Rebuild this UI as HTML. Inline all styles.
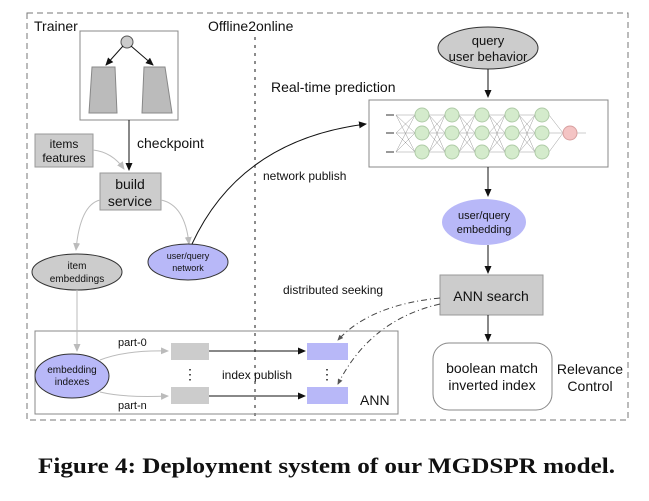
<!DOCTYPE html>
<html><head><style>
body{margin:0;background:#fff;width:649px;height:496px;overflow:hidden}
svg text{font-family:"Liberation Sans",sans-serif;fill:#111}
</style></head><body>
<svg width="649" height="496" viewBox="0 0 649 496" xmlns="http://www.w3.org/2000/svg">
<defs>
<marker id="a" markerWidth="8" markerHeight="8" refX="7" refY="4" orient="auto" markerUnits="userSpaceOnUse"><path d="M0,0.5 L8,4 L0,7.5z" fill="#111"/></marker>
<marker id="g" markerWidth="8" markerHeight="8" refX="7" refY="4" orient="auto" markerUnits="userSpaceOnUse"><path d="M0,0.5 L8,4 L0,7.5z" fill="#bbb"/></marker>
<marker id="s" markerWidth="6" markerHeight="6" refX="5" refY="3" orient="auto" markerUnits="userSpaceOnUse"><path d="M0,0.5 L6,3 L0,5.5z" fill="#555"/></marker>
</defs>
<rect x="27" y="13" width="601" height="407" fill="none" stroke="#777" stroke-dasharray="6,4"/>
<line x1="255" y1="37" x2="255" y2="420" stroke="#666" stroke-width="1.5" stroke-dasharray="3,5"/>
<text x="34" y="31" font-size="14">Trainer</text>
<text x="208" y="31" font-size="14">Offline2online</text>
<rect x="80" y="31" width="98" height="89" fill="#fff" stroke="#888"/>
<circle cx="127" cy="42" r="6" fill="#ccc" stroke="#555"/>
<line x1="123" y1="46" x2="106" y2="65" stroke="#111" marker-end="url(#a)"/>
<line x1="131" y1="46" x2="153" y2="65" stroke="#111" marker-end="url(#a)"/>
<path d="M92,67 L115,67 L117,113 L89,113z" fill="#bbb" stroke="#888"/>
<path d="M144,67 L165,67 L172,113 L142,113z" fill="#bbb" stroke="#888"/>
<line x1="129" y1="120" x2="129" y2="170" stroke="#111" marker-end="url(#a)"/>
<text x="137" y="148" font-size="14">checkpoint</text>
<rect x="35" y="134" width="58" height="33" fill="#ccc" stroke="#999"/>
<text x="64" y="148" font-size="12" text-anchor="middle">items</text>
<text x="64" y="162" font-size="12" text-anchor="middle">features</text>
<path d="M93,150 Q112,152 124,169" fill="none" stroke="#bbb" marker-end="url(#g)"/>
<rect x="100" y="173" width="61" height="37" fill="#ccc" stroke="#999"/>
<text x="130" y="189" font-size="14" text-anchor="middle">build</text>
<text x="130" y="206" font-size="14" text-anchor="middle">service</text>
<path d="M100,200 Q80,205 76,250" fill="none" stroke="#bbb" marker-end="url(#g)"/>
<path d="M161,200 Q185,205 189,244" fill="none" stroke="#bbb" marker-end="url(#g)"/>
<ellipse cx="77" cy="272" rx="45" ry="18" fill="#ccc" stroke="#333"/>
<text x="77" y="269" font-size="10" text-anchor="middle">item</text>
<text x="77" y="282" font-size="10" text-anchor="middle">embeddings</text>
<ellipse cx="188" cy="262" rx="40" ry="18" fill="#b8b8f8" stroke="#333"/>
<text x="188" y="259" font-size="9" text-anchor="middle">user/query</text>
<text x="188" y="271" font-size="9" text-anchor="middle">network</text>
<path d="M192,244 Q240,140 366,124" fill="none" stroke="#111" marker-end="url(#a)"/>
<text x="263" y="180" font-size="12">network publish</text>
<ellipse cx="488" cy="48" rx="50" ry="21" fill="#ccc" stroke="#333"/>
<text x="488" y="45" font-size="13" text-anchor="middle">query</text>
<text x="488" y="61" font-size="13" text-anchor="middle">user behavior</text>
<line x1="488" y1="69" x2="488" y2="97" stroke="#111" marker-end="url(#a)"/>
<text x="271" y="92" font-size="14">Real-time prediction</text>
<rect x="369" y="100" width="239" height="67" fill="#fff" stroke="#888"/>
<g stroke="#999" stroke-width="0.5">
<path d="M396,115 L415,115 M396,133 L415,133 M396,152 L415,152 M396,115 L415,133 M396,115 L415,152 M396,133 L415,115 M396,133 L415,152 M396,152 L415,115 M396,152 L415,133"/>
<path d="M429,115 L445,115 M429,133 L445,133 M429,152 L445,152 M429,115 L445,133 M429,115 L445,152 M429,133 L445,115 M429,133 L445,152 M429,152 L445,115 M429,152 L445,133"/>
<path d="M459,115 L475,115 M459,133 L475,133 M459,152 L475,152 M459,115 L475,133 M459,115 L475,152 M459,133 L475,115 M459,133 L475,152 M459,152 L475,115 M459,152 L475,133"/>
<path d="M489,115 L505,115 M489,133 L505,133 M489,152 L505,152 M489,115 L505,133 M489,115 L505,152 M489,133 L505,115 M489,133 L505,152 M489,152 L505,115 M489,152 L505,133"/>
<path d="M519,115 L535,115 M519,133 L535,133 M519,152 L535,152 M519,115 L535,133 M519,115 L535,152 M519,133 L535,115 M519,133 L535,152 M519,152 L535,115 M519,152 L535,133"/>
<path d="M549,115 L563,133 M549,133 L563,133 M549,152 L563,133 M577,133 L586,133"/>
</g>
<g fill="#d4ebcc" stroke="#b0cca8">
<circle cx="422" cy="115" r="7"/><circle cx="422" cy="133" r="7"/><circle cx="422" cy="152" r="7"/>
<circle cx="452" cy="115" r="7"/><circle cx="452" cy="133" r="7"/><circle cx="452" cy="152" r="7"/>
<circle cx="482" cy="115" r="7"/><circle cx="482" cy="133" r="7"/><circle cx="482" cy="152" r="7"/>
<circle cx="512" cy="115" r="7"/><circle cx="512" cy="133" r="7"/><circle cx="512" cy="152" r="7"/>
<circle cx="542" cy="115" r="7"/><circle cx="542" cy="133" r="7"/><circle cx="542" cy="152" r="7"/>
</g>
<circle cx="570" cy="133" r="7" fill="#f4c4c4" stroke="#d8a0a0"/>
<g fill="#999"><rect x="386" y="114" width="8" height="2"/><rect x="386" y="132" width="8" height="2"/><rect x="386" y="151" width="8" height="2"/></g>
<line x1="488" y1="167" x2="488" y2="196" stroke="#111" marker-end="url(#a)"/>
<ellipse cx="484" cy="222" rx="42" ry="23" fill="#b8b8f8"/>
<text x="484" y="219" font-size="11" text-anchor="middle">user/query</text>
<text x="484" y="233" font-size="11" text-anchor="middle">embedding</text>
<line x1="488" y1="245" x2="488" y2="273" stroke="#111" marker-end="url(#a)"/>
<rect x="440" y="275" width="103" height="40" fill="#ccc" stroke="#999"/>
<text x="491" y="301" font-size="14" text-anchor="middle">ANN search</text>
<text x="283" y="294" font-size="12">distributed seeking</text>
<line x1="488" y1="315" x2="488" y2="341" stroke="#111" marker-end="url(#a)"/>
<rect x="433" y="343" width="119" height="67" rx="16" fill="#fff" stroke="#888"/>
<text x="492" y="373" font-size="14" text-anchor="middle">boolean match</text>
<text x="492" y="390" font-size="14" text-anchor="middle">inverted index</text>
<text x="590" y="374" font-size="14" text-anchor="middle">Relevance</text>
<text x="590" y="391" font-size="14" text-anchor="middle">Control</text>
<path d="M440,298 Q370,305 338,340" fill="none" stroke="#444" stroke-dasharray="6,3,1,3" marker-end="url(#s)"/>
<path d="M440,304 Q370,320 338,384" fill="none" stroke="#444" stroke-dasharray="6,3,1,3" marker-end="url(#s)"/>
<rect x="35" y="331" width="363" height="83" fill="none" stroke="#888"/>
<line x1="77" y1="290" x2="77" y2="351" stroke="#bbb" marker-end="url(#g)"/>
<ellipse cx="72" cy="376" rx="37" ry="22" fill="#b8b8f8" stroke="#333"/>
<text x="72" y="373" font-size="10" text-anchor="middle">embedding</text>
<text x="72" y="385" font-size="10" text-anchor="middle">indexes</text>
<path d="M100,360 Q125,350 168,351" fill="none" stroke="#bbb" marker-end="url(#g)"/>
<path d="M100,392 Q125,398 168,396" fill="none" stroke="#bbb" marker-end="url(#g)"/>
<text x="118" y="346" font-size="11">part-0</text>
<text x="118" y="409" font-size="11">part-n</text>
<rect x="171" y="343" width="38" height="17" fill="#ccc"/>
<rect x="171" y="387" width="38" height="17" fill="#ccc"/>
<rect x="307" y="343" width="41" height="17" fill="#b8b8f8"/>
<rect x="307" y="387" width="41" height="17" fill="#b8b8f8"/>
<line x1="209" y1="351" x2="305" y2="351" stroke="#111" marker-end="url(#a)"/>
<line x1="209" y1="396" x2="305" y2="396" stroke="#111" marker-end="url(#a)"/>
<text x="190" y="379" font-size="14" text-anchor="middle">⋮</text>
<text x="327" y="379" font-size="14" text-anchor="middle">⋮</text>
<text x="222" y="379" font-size="12">index publish</text>
<text x="360" y="405" font-size="14">ANN</text>
<text x="38" y="473" font-size="22" font-weight="bold" textLength="577" lengthAdjust="spacingAndGlyphs" style="font-family:'Liberation Serif',serif">Figure 4: Deployment system of our MGDSPR model.</text>
</svg>
</body></html>
